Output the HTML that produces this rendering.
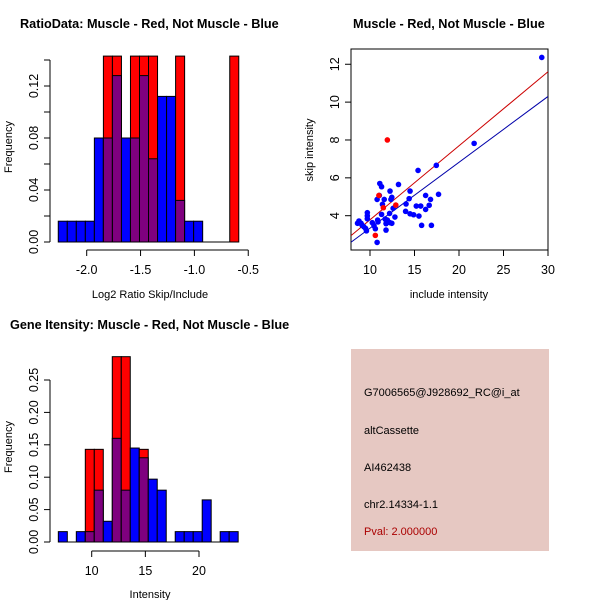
<!DOCTYPE html>
<html><head><meta charset="utf-8"><style>
html,body{margin:0;padding:0;background:#fff;}
svg{display:block;font-family:"Liberation Sans",Arial,sans-serif;}
</style></head><body>
<svg id="chart" width="600" height="600" viewBox="0 0 600 600">
<rect width="600" height="600" fill="#fff"/>
<text x="20" y="28" font-size="12.7" font-weight="bold">RatioData: Muscle - Red, Not Muscle - Blue</text>
<text x="353" y="28" font-size="12.7" font-weight="bold">Muscle - Red, Not Muscle - Blue</text>
<text x="10" y="329" font-size="12.7" font-weight="bold">Gene Itensity: Muscle - Red, Not Muscle - Blue</text>
<g id="g1"></g>
<g id="g2"></g>
<g id="g3"></g>
<g>
<rect x="351" y="349" width="198" height="202" fill="#e6c8c2"/>
<text x="364" y="396" font-size="11">G7006565@J928692_RC@i_at</text>
<text x="364" y="434" font-size="11">altCassette</text>
<text x="364" y="471" font-size="11">AI462438</text>
<text x="364" y="508" font-size="11">chr2.14334-1.1</text>
<text x="364" y="535" font-size="11" fill="#aa0000">Pval: 2.000000</text>
</g>
</svg>
<script>
// Histogram 1 data (log2 ratio)
const ratioBinStart = -2.264;
const ratioBinWidth = 0.0838;
const ratioBlue = [0.016,0.016,0.016,0.016,0.08,0.08,0.128,0.08,0.08,0.128,0.064,0.112,0.112,0.032,0.016,0.016,0,0,0,0];
const ratioRed  = [0,0,0,0,0,0.143,0.143,0,0.143,0.143,0.143,0,0,0.143,0,0,0,0,0,0.143];
const ratioXTicks = [-2.0,-1.5,-1.0,-0.5];
const ratioXTickLabels = ["-2.0","-1.5","-1.0","-0.5"];
const ratioYTicks = [0,0.02,0.04,0.06,0.08,0.10,0.12,0.14];
const ratioYLabels = [0,0.04,0.08,0.12];
const ratioYLabelText = ["0.00","0.04","0.08","0.12"];
// Histogram 2 data (intensity)
const intBinStart = 6.89;
const intBinWidth = 0.838;
const intBlue = [0.016,0,0.016,0.016,0.08,0.032,0.16,0.08,0.145,0.13,0.097,0.08,0,0.016,0.016,0.016,0.065,0,0.016,0.016];
const intRed  = [0,0,0,0.143,0.143,0,0.286,0.286,0,0.143,0,0,0,0,0,0,0,0,0,0];
const intXTicks = [10,15,20];
const intYTicks = [0,0.05,0.10,0.15,0.20,0.25];
const intYLabelText = ["0.00","0.05","0.10","0.15","0.20","0.25"];
// Scatter data
const blueX = [29.3,21.7,17.45,15.4,13.2,11.1,11.3,11.05,10.8,12.25,12.45,12.35,14.5,14.4,16.25,16.8,17.7,11.6,11.4,14.05,15.2,15.7,16.65,16.25,12.6,12.8,12.2,14.0,14.5,14.9,15.5,11.3,9.7,9.7,9.7,10.86,10.9,11.7,11.95,12.25,11.8,12.45,11.8,10.26,10.45,10.6,8.76,8.99,8.6,9.1,9.3,9.5,9.6,15.8,16.9,10.8];
const blueY = [12.36,7.82,6.66,6.39,5.65,5.7,5.53,5.07,4.86,5.3,4.97,4.86,5.3,4.9,5.07,4.86,5.13,4.86,4.6,4.62,4.51,4.51,4.55,4.33,4.39,3.93,4.12,4.23,4.1,4.05,3.98,4.07,4.16,4.0,3.84,3.77,3.67,3.82,3.77,3.63,3.58,3.6,3.24,3.63,3.47,3.31,3.72,3.6,3.6,3.5,3.42,3.33,3.2,3.49,3.49,2.59];
const redX = [11.95,10.6,11.5,12.9,11.0];
const redY = [8.0,2.96,4.42,4.56,5.07];
const redFit = [0.391,-0.127];
const blueFit = [0.348,-0.14];
const scXTicks = [10,15,20,25,30];
const scYTicks = [4,6,8,10,12];

const NS="http://www.w3.org/2000/svg";
function mk(parent,tag,attrs){const e=document.createElementNS(NS,tag);for(const k in attrs)e.setAttribute(k,attrs[k]);parent.appendChild(e);return e;}

function histogram(g,binStart,binWidth,blue,red,sx,sy,name){
  for(let i=0;i<blue.length;i++){
    const x0=sx(binStart+i*binWidth), x1=sx(binStart+(i+1)*binWidth);
    const b=blue[i], r=red[i];
    const hi=Math.max(b,r), lo=Math.min(b,r);
    if(hi>0){
      const r1=mk(g,'rect',{x:x0,y:sy(hi),width:x1-x0,height:sy(0)-sy(hi),fill:(r>=b?'#ff0000':'#0000ff'),stroke:'#000','stroke-width':1});
      
      
    }
    if(lo>0){
      const r2=mk(g,'rect',{x:x0,y:sy(lo),width:x1-x0,height:sy(0)-sy(lo),fill:'#7f007f',stroke:'#000','stroke-width':1});
      
      
    }
  }
}
function xAxis(g,ticks,labels,sx,y,name){
  mk(g,'line',{x1:sx(ticks[0]),x2:sx(ticks[ticks.length-1]),y1:y,y2:y,stroke:'#000'});
  ticks.forEach((t,i)=>{
    mk(g,'line',{x1:sx(t),x2:sx(t),y1:y,y2:y+6,stroke:'#000'});
    const tx=mk(g,'text',{x:sx(t),y:y+24,'font-size':12.5,'text-anchor':'middle'});
    tx.textContent=labels[i];
    
    
  });
}
function yAxis(g,ticks,labelTicks,labelText,sy,x,name){
  if(ticks.length){
    mk(g,'line',{x1:x,x2:x,y1:sy(ticks[0]),y2:sy(ticks[ticks.length-1]),stroke:'#000'});
    ticks.forEach(t=>mk(g,'line',{x1:x-6,x2:x,y1:sy(t),y2:sy(t),stroke:'#000'}));
  }
  labelTicks.forEach((t,i)=>{
    const tx=mk(g,'text',{x:0,y:0,'font-size':12.5,'text-anchor':'middle',transform:`translate(${x-12},${sy(t)}) rotate(-90)`});
    tx.textContent=labelText[i];
    
    
  });
}
function label(g,txt,x,y,rot,name){
  const t=mk(g,'text',{x:0,y:0,'font-size':11,'text-anchor':'middle',transform:`translate(${x},${y})`+(rot?' rotate(-90)':'')});
  t.textContent=txt;
  
  
}

// Panel 1
{
  const g=document.getElementById('g1');
  const sx=v=>86.7+(v+2)*107.7, sy=v=>242-v*1300;
  histogram(g,ratioBinStart,ratioBinWidth,ratioBlue,ratioRed,sx,sy,'ratio');
  mk(g,'line',{x1:sx(ratioBinStart),x2:sx(ratioBinStart+ratioBlue.length*ratioBinWidth),y1:sy(0),y2:sy(0),stroke:'#000'});
  xAxis(g,ratioXTicks,ratioXTickLabels,sx,250,'ratio');
  yAxis(g,ratioYTicks,ratioYLabels,ratioYLabelText,sy,50,'ratio');
  label(g,'Log2 Ratio Skip/Include',150,298,false,'ratio-x-axis-title');
  label(g,'Frequency',12,147,true,'ratio-y-axis-title');
}
// Panel 3
{
  const g=document.getElementById('g3');
  const sx=v=>91.7+(v-10)*10.73, sy=v=>542-v*648;
  histogram(g,intBinStart,intBinWidth,intBlue,intRed,sx,sy,'intensity');
  mk(g,'line',{x1:sx(intBinStart),x2:sx(intBinStart+intBlue.length*intBinWidth),y1:sy(0),y2:sy(0),stroke:'#000'});
  xAxis(g,intXTicks,intXTicks.map(String),sx,551,'intensity');
  yAxis(g,intYTicks,intYTicks,intYLabelText,sy,50,'intensity');
  label(g,'Intensity',150,598,false,'intensity-x-axis-title');
  label(g,'Frequency',12,447,true,'intensity-y-axis-title');
}
// Panel 2 scatter
{
  const g=document.getElementById('g2');
  const sx=v=>370+(v-10)*8.9, sy=v=>215.7-(v-4)*18.93;
  const xmin=10-19/8.9, xmax=30;
  mk(g,'rect',{x:351,y:49,width:197,height:201,fill:'none',stroke:'#000'});
  const x=250;
  scXTicks.forEach(t=>{
    mk(g,'line',{x1:sx(t),x2:sx(t),y1:x,y2:x+6,stroke:'#000'});
    const tx=mk(g,'text',{x:sx(t),y:274,'font-size':12.5,'text-anchor':'middle'});
    tx.textContent=String(t);
    
    
  });
  yAxis(g,[],scYTicks,scYTicks.map(String),sy,351,'scatter');
  scYTicks.forEach(t=>mk(g,'line',{x1:345,x2:351,y1:sy(t),y2:sy(t),stroke:'#000'}));
  const clip=mk(g,'clipPath',{id:'scClip'});
  mk(clip,'rect',{x:351,y:49,width:197,height:201});
  const rl=mk(g,'line',{x1:sx(xmin),y1:sy(redFit[0]*xmin+redFit[1]),x2:sx(xmax),y2:sy(redFit[0]*xmax+redFit[1]),stroke:'#cc0000','clip-path':'url(#scClip)'});
  
  
  const bl=mk(g,'line',{x1:sx(xmin),y1:sy(blueFit[0]*xmin+blueFit[1]),x2:sx(xmax),y2:sy(blueFit[0]*xmax+blueFit[1]),stroke:'#0000aa','clip-path':'url(#scClip)'});
  
  
  blueX.forEach((v,i)=>{
    const c=mk(g,'circle',{cx:sx(v),cy:sy(blueY[i]),r:2.8,fill:'#0000ff'});
    
    
  });
  redX.forEach((v,i)=>{
    const c=mk(g,'circle',{cx:sx(v),cy:sy(redY[i]),r:2.8,fill:'#ff0000'});
    
    
  });
  label(g,'include intensity',449,298,false,'scatter-x-axis-title');
  label(g,'skip intensity',313,150,true,'scatter-y-axis-title');
}
</script>
</body></html>
